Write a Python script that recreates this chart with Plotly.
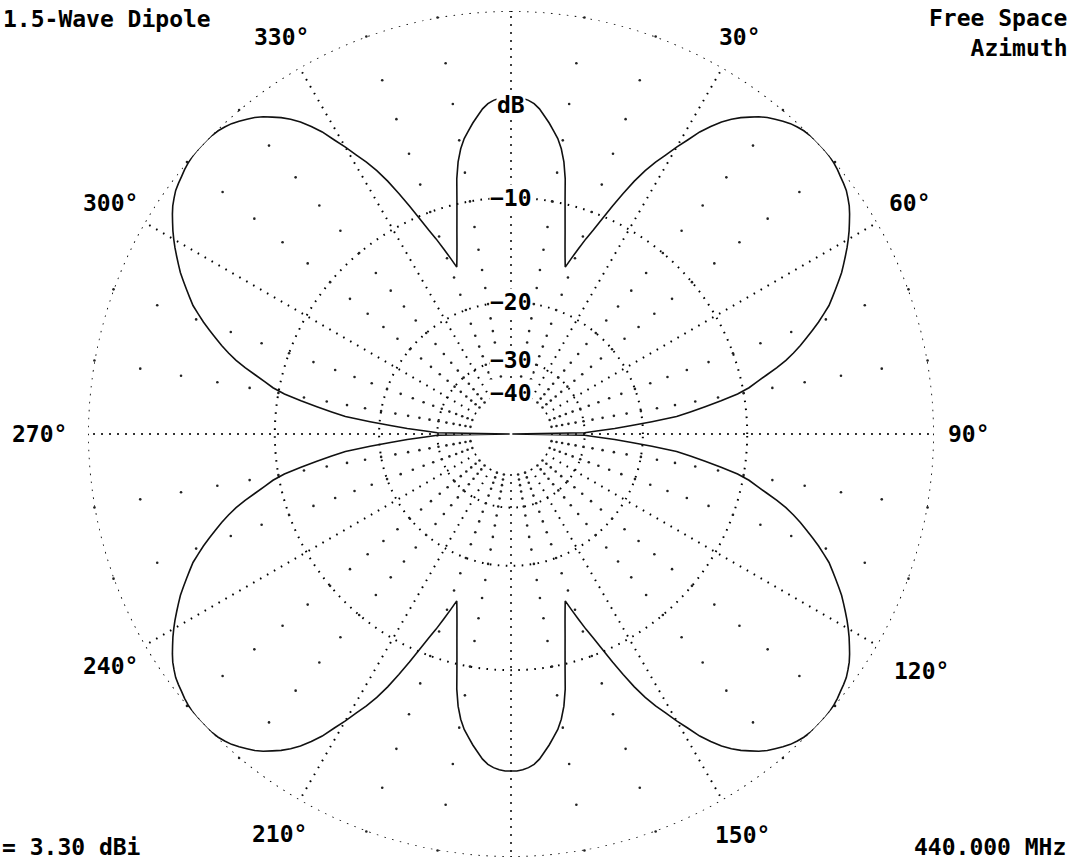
import math
import plotly.graph_objects as go

# ---------------- data ----------------
azimuth_deg = list(range(0, 361))

gain_db = [
    -3.9, -3.9, -3.95, -4.05, -4.2, -4.45, -4.8, -5.15, -5.55, -5.95,
    -6.5, -7.25, -8.3, -9.7, -10.95, -12.1, -13.2, -14.2, -15.1, -14.1,
    -13.1, -12.1, -11.2, -10.15, -9.05, -8.0, -7.0, -6.15, -5.45, -4.85,
    -4.2, -3.6, -2.95, -2.45, -2.0, -1.65, -1.35, -1.1, -0.85, -0.65,
    -0.5, -0.35, -0.22, -0.13, -0.06, -0.02, 0.0, 0.0, 0.0, -0.02,
    -0.06, -0.12, -0.2, -0.27, -0.35, -0.48, -0.62, -0.8, -1.0, -1.2,
    -1.42, -1.65, -1.9, -2.15, -2.4, -2.7, -3.0, -3.3, -3.6, -4.0,
    -4.4, -4.85, -5.3, -5.75, -6.25, -6.8, -7.45, -8.2, -8.9, -9.55,
    -10.45, -11.8, -13.2, -14.6, -16.0, -18.8, -21.5, -24.1, -27.4, -30.0,
    -99.0, -30.0, -27.4, -24.1, -21.5, -18.8, -16.0, -14.6, -13.2, -11.8,
    -10.45, -9.55, -8.9, -8.2, -7.45, -6.8, -6.25, -5.75, -5.3, -4.85,
    -4.4, -4.0, -3.6, -3.3, -3.0, -2.7, -2.4, -2.15, -1.9, -1.65,
    -1.42, -1.2, -1.0, -0.8, -0.62, -0.48, -0.35, -0.27, -0.2, -0.12,
    -0.06, -0.02, 0.0, 0.0, 0.0, -0.02, -0.06, -0.13, -0.22, -0.35,
    -0.5, -0.65, -0.85, -1.1, -1.35, -1.65, -2.0, -2.45, -2.95, -3.6,
    -4.2, -4.85, -5.45, -6.15, -7.0, -8.0, -9.05, -10.15, -11.2, -12.1,
    -13.1, -14.1, -15.1, -14.2, -13.2, -12.1, -10.95, -9.7, -8.3, -7.25,
    -6.5, -5.95, -5.55, -5.15, -4.8, -4.45, -4.2, -4.05, -3.95, -3.9,
    -3.9, -3.9, -3.95, -4.05, -4.2, -4.45, -4.8, -5.15, -5.55, -5.95,
    -6.5, -7.25, -8.3, -9.7, -10.95, -12.1, -13.2, -14.2, -15.1, -14.1,
    -13.1, -12.1, -11.2, -10.15, -9.05, -8.0, -7.0, -6.15, -5.45, -4.85,
    -4.2, -3.6, -2.95, -2.45, -2.0, -1.65, -1.35, -1.1, -0.85, -0.65,
    -0.5, -0.35, -0.22, -0.13, -0.06, -0.02, 0.0, 0.0, 0.0, -0.02,
    -0.06, -0.12, -0.2, -0.27, -0.35, -0.48, -0.62, -0.8, -1.0, -1.2,
    -1.42, -1.65, -1.9, -2.15, -2.4, -2.7, -3.0, -3.3, -3.6, -4.0,
    -4.4, -4.85, -5.3, -5.75, -6.25, -6.8, -7.45, -8.2, -8.9, -9.55,
    -10.45, -11.8, -13.2, -14.6, -16.0, -18.8, -21.5, -24.1, -27.4, -30.0,
    -99.0, -30.0, -27.4, -24.1, -21.5, -18.8, -16.0, -14.6, -13.2, -11.8,
    -10.45, -9.55, -8.9, -8.2, -7.45, -6.8, -6.25, -5.75, -5.3, -4.85,
    -4.4, -4.0, -3.6, -3.3, -3.0, -2.7, -2.4, -2.15, -1.9, -1.65,
    -1.42, -1.2, -1.0, -0.8, -0.62, -0.48, -0.35, -0.27, -0.2, -0.12,
    -0.06, -0.02, 0.0, 0.0, 0.0, -0.02, -0.06, -0.13, -0.22, -0.35,
    -0.5, -0.65, -0.85, -1.1, -1.35, -1.65, -2.0, -2.45, -2.95, -3.6,
    -4.2, -4.85, -5.45, -6.15, -7.0, -8.0, -9.05, -10.15, -11.2, -12.1,
    -13.1, -14.1, -15.1, -14.2, -13.2, -12.1, -10.95, -9.7, -8.3, -7.25,
    -6.5, -5.95, -5.55, -5.15, -4.8, -4.45, -4.2, -4.05, -3.95, -3.9,
    -3.9,
]

ring_db = [0, -10, -20, -30, -40]
ring_labels = ["", "\u221210", "\u221220", "\u221230", "\u221240"]
unit_label = "dB"
unit_label_db = -4.3

spoke_angles = [0, 30, 60, 90, 120, 150, 180, 210, 240, 270, 300, 330]
spoke_labels = ["", "30°", "60°", "90°", "120°", "150°", "", "210°", "240°", "270°", "300°", "330°"]

dot_angles = [10, 20, 40, 50, 70, 80, 100, 110, 130, 140, 160, 170,
              190, 200, 220, 230, 250, 260, 280, 290, 310, 320, 340, 350]
dot_levels_db = [0, -2, -4, -6, -8, -10, -12, -14, -16, -18, -20,
                 -22, -24, -26, -28, -30, -32, -34, -36, -38, -40]

title_left = "1.5-Wave Dipole"
title_right = ["Free Space", "Azimuth"]
footer_left = "= 3.30 dBi"
footer_right = "440.000 MHz"


# ---------------- ARRL log scale: each 2 dB step -> radius x 0.89 ----------------
def arrl(db):
    return 0.89 ** (-db / 2.0)


W, H = 1079, 860
CX, CY, R_PX = 511, 434, 423
R_MAX = 1.0
HOLE_R = 0.095
# distance (px) of each azimuth label centre from the plot centre (layout only)
ANGLE_LABEL_PX = {30: 458, 60: 461, 90: 458, 120: 474, 150: 463,
                  210: 462, 240: 463, 270: 472, 300: 462, 330: 458}
RD = R_PX * R_MAX
dom_x = [(CX - RD) / W, (CX + RD) / W]
dom_y = [((H - CY) - RD) / H, ((H - CY) + RD) / H]

FONT = "DejaVu Sans Mono"
TXT = dict(family=FONT, size=23, color="black", weight="bold")
GRID_DASH = "1.6px,6.4px"

fig = go.Figure()

# outer 0 dB ring (dotted)
fig.add_trace(go.Scatterpolar(
    r=[arrl(ring_db[0])] * len(azimuth_deg), theta=azimuth_deg, mode="lines",
    subplot="polar", line=dict(color="black", width=1.8, dash=GRID_DASH),
    hoverinfo="skip", showlegend=False,
))

# 2 dB dots along the 10-degree spokes (grid decoration)
dot_r, dot_t = [], []
for a in dot_angles:
    for lv in dot_levels_db:
        dot_r.append(arrl(lv))
        dot_t.append(a)
fig.add_trace(go.Scatterpolar(
    r=dot_r, theta=dot_t, mode="markers", subplot="polar",
    marker=dict(size=2.6, color="#222222", line=dict(width=0)),
    hoverinfo="skip", showlegend=False,
))

# antenna pattern
fig.add_trace(go.Scatterpolar(
    r=[arrl(d) for d in gain_db], theta=azimuth_deg, mode="lines", subplot="polar2",
    line=dict(color="#111111", width=1.6), showlegend=False,
))

fig.update_layout(
    width=W, height=H,
    margin=dict(l=0, r=0, t=0, b=0),
    paper_bgcolor="white",
    plot_bgcolor="white",
    showlegend=False,
    polar=dict(
        domain=dict(x=dom_x, y=dom_y),
        bgcolor="white",
        hole=HOLE_R / R_MAX,
        radialaxis=dict(
            range=[HOLE_R, R_MAX], tickmode="array",
            tickvals=[arrl(d) for d in ring_db[1:]],
            showticklabels=False, ticks="", showline=False,
            showgrid=True, gridcolor="black", gridwidth=1.6, griddash=GRID_DASH,
        ),
        angularaxis=dict(
            rotation=90, direction="clockwise", tickmode="array",
            tickvals=spoke_angles, showticklabels=False, ticks="",
            showline=False, showgrid=True, gridcolor="black", gridwidth=1.5,
            griddash=GRID_DASH,
        ),
    ),
    polar2=dict(
        domain=dict(x=dom_x, y=dom_y),
        bgcolor="rgba(0,0,0,0)",
        radialaxis=dict(range=[0, R_MAX], showticklabels=False, ticks="",
                        showline=False, showgrid=False),
        angularaxis=dict(rotation=90, direction="clockwise", showticklabels=False,
                         ticks="", showline=False, showgrid=False),
    ),
)

annots = []
# azimuth labels (clockwise from the top), centred on a circle outside the plot
for a, lab in zip(spoke_angles, spoke_labels):
    if not lab:
        continue
    rr = ANGLE_LABEL_PX.get(a, 461)
    xp = CX + rr * math.sin(math.radians(a))
    yp = CY - rr * math.cos(math.radians(a))
    annots.append(dict(x=xp / W, y=1 - yp / H, xref="paper", yref="paper", text=lab,
                       showarrow=False, xanchor="center", yanchor="middle", font=TXT))

# radial scale labels, centred on the 0-degree spoke
for lv, lab in zip(ring_db, ring_labels):
    if not lab:
        continue
    ypx = (H - CY) + R_PX * arrl(lv)
    annots.append(dict(x=CX / W, y=ypx / H, xref="paper", yref="paper", text=lab,
                       showarrow=False, xanchor="center", yanchor="middle",
                       bgcolor="white", borderpad=0, font=TXT))
annots.append(dict(x=CX / W, y=((H - CY) + R_PX * arrl(unit_label_db)) / H,
                   xref="paper", yref="paper", text=unit_label, showarrow=False,
                   xanchor="center", yanchor="middle", bgcolor="white", borderpad=0, font=TXT))

annots.append(dict(x=1 / W, y=1 - 19 / H, xref="paper", yref="paper", text=title_left,
                   showarrow=False, xanchor="left", yanchor="middle", font=TXT))
annots.append(dict(x=1069 / W, y=1 - 33 / H, xref="paper", yref="paper",
                   text="<br>".join(title_right), align="right",
                   showarrow=False, xanchor="right", yanchor="middle", font=TXT))
annots.append(dict(x=0, y=1 - 847 / H, xref="paper", yref="paper", text=footer_left,
                   showarrow=False, xanchor="left", yanchor="middle", font=TXT))
annots.append(dict(x=1068 / W, y=1 - 847 / H, xref="paper", yref="paper", text=footer_right,
                   showarrow=False, xanchor="right", yanchor="middle", font=TXT))
fig.update_layout(annotations=annots)

fig.write_html("out.html", config={"displayModeBar": False},
               post_script="document.body.style.margin='0px';")
